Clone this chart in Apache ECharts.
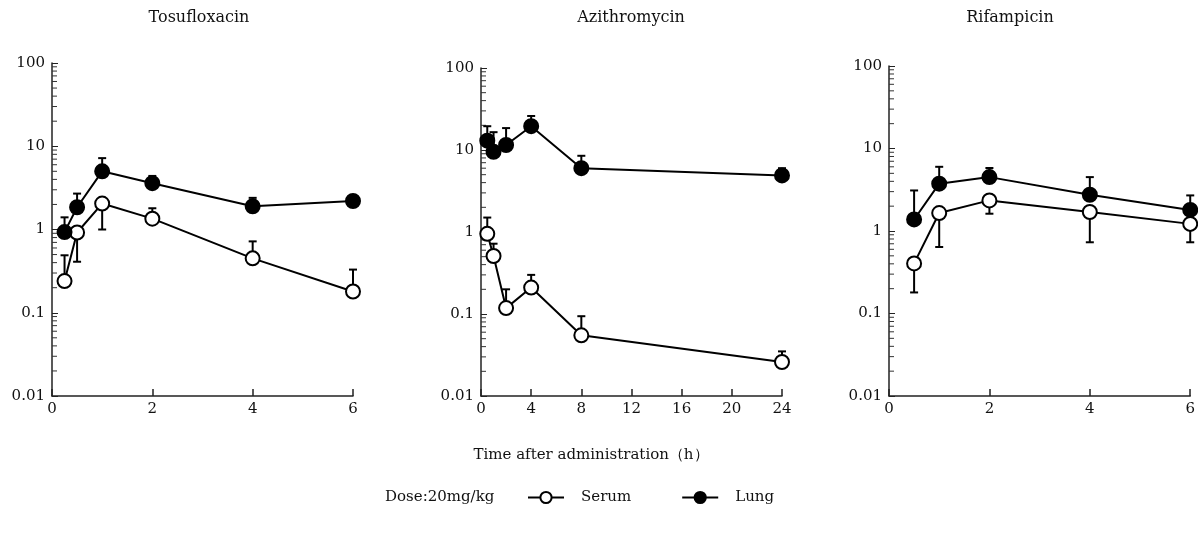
<!DOCTYPE html>
<html>
<head>
<meta charset="utf-8">
<title>Serum and lung concentrations</title>
<script src="https://cdn.jsdelivr.net/npm/echarts@6/dist/echarts.min.js"></script>
<style>
  html, body { margin: 0; padding: 0; background: #fff; }
  #chart { width: 1198px; height: 540px; }
</style>
</head>
<body>
<div id="chart"></div>
<script>
  // values (ug/mL or ug/g), errEnd = end of the SD bar
  const tosuTime = [0.25, 0.5, 1, 2, 4, 6]
  const tosuSerum = [0.24, 0.92, 2.05, 1.35, 0.45, 0.18]
  const tosuSerumErr = [0.49, 0.41, 1.0, 1.8, 0.72, 0.33]
  const tosuLung = [0.93, 1.85, 5.0, 3.6, 1.9, 2.2]
  const tosuLungErr = [1.4, 2.7, 7.2, 4.4, 2.4, null]

  const aziTime = [0.5, 1, 2, 4, 8, 24]
  const aziSerum = [0.95, 0.51, 0.118, 0.21, 0.055, 0.026]
  const aziSerumErr = [1.5, 0.72, 0.2, 0.3, 0.094, 0.035]
  const aziLung = [13, 9.5, 11.5, 19.5, 6.0, 4.9]
  const aziLungErr = [19.5, 16.5, 18.5, 26, 8.5, 6.0]

  const rifTime = [0.5, 1, 2, 4, 6]
  const rifSerum = [0.405, 1.65, 2.35, 1.7, 1.22]
  const rifSerumErr = [0.18, 0.64, 1.62, 0.73, 0.73]
  const rifLung = [1.38, 3.75, 4.5, 2.75, 1.8]
  const rifLungErr = [3.1, 6.0, 5.8, 4.5, 2.7]

  // log axis minor ticks
  const decades = [0.01, 0.1, 1, 10]
  const minorSteps = [2, 3, 4, 5, 6, 7, 8, 9]

  const FONT = 'DejaVu Serif'
  const INK = '#111'

  const panels = [
    { name: 'Tosufloxacin', titleX: 199, xMax: 6, xStep: 2,
      grid: { left: 52, top: 63, width: 301, height: 333 },
      time: tosuTime, serum: tosuSerum, serumErr: tosuSerumErr, lung: tosuLung, lungErr: tosuLungErr },
    { name: 'Azithromycin', titleX: 631, xMax: 24, xStep: 4,
      grid: { left: 481, top: 68, width: 301, height: 328 },
      time: aziTime, serum: aziSerum, serumErr: aziSerumErr, lung: aziLung, lungErr: aziLungErr },
    { name: 'Rifampicin', titleX: 1010, xMax: 6, xStep: 2,
      grid: { left: 889, top: 66, width: 302, height: 330 },
      time: rifTime, serum: rifSerum, serumErr: rifSerumErr, lung: rifLung, lungErr: rifLungErr }
  ]

  function renderErrorBar(params, api) {
    const p0 = api.coord([api.value(0), api.value(1)])
    const p1 = api.coord([api.value(0), api.value(2)])
    const s = { stroke: '#000', lineWidth: 2 }
    return {
      type: 'group',
      children: [
        { type: 'line', shape: { x1: p0[0], y1: p0[1], x2: p1[0], y2: p1[1] }, style: s },
        { type: 'line', shape: { x1: p1[0] - 4, y1: p1[1], x2: p1[0] + 4, y2: p1[1] }, style: s }
      ]
    }
  }

  function renderMinorTick(params, api) {
    const p = api.coord([api.value(0), api.value(1)])
    return {
      type: 'line',
      shape: { x1: p[0], y1: p[1], x2: p[0] + 5, y2: p[1] },
      style: { stroke: '#333', lineWidth: 1 }
    }
  }

  const minorData = []
  decades.forEach(d => minorSteps.forEach(m => minorData.push([0, d * m])))

  const grids = []
  const xAxes = []
  const yAxes = []
  const series = []
  const texts = []

  panels.forEach((p, i) => {
    grids.push(p.grid)
    xAxes.push({
      type: 'value',
      gridIndex: i,
      min: 0,
      max: p.xMax,
      interval: p.xStep,
      axisLine: { onZero: false, lineStyle: { color: '#222', width: 1.5 } },
      axisTick: { inside: true, length: 7, lineStyle: { color: '#222', width: 1.5 } },
      axisLabel: { fontFamily: FONT, fontSize: 15, color: INK, margin: 6 },
      splitLine: { show: false }
    })
    yAxes.push({
      type: 'log',
      logBase: 10,
      gridIndex: i,
      min: 0.01,
      max: 100,
      axisLine: { show: true, onZero: false, lineStyle: { color: '#222', width: 1.5 } },
      axisTick: { show: true, inside: true, length: 6, lineStyle: { color: '#222' } },
      axisLabel: {
        fontFamily: FONT, fontSize: 15, color: INK, margin: 7,
        formatter: v => String(parseFloat(Number(v).toPrecision(3)))
      },
      splitLine: { show: false }
    })

    series.push({
      type: 'custom',
      xAxisIndex: i,
      yAxisIndex: i,
      z: 1,
      silent: true,
      renderItem: renderMinorTick,
      encode: { x: 0, y: 1 },
      data: minorData
    })

    const errData = (vals, ends) => p.time
      .map((t, k) => ends[k] == null ? null : [t, vals[k], ends[k]])
      .filter(Boolean)

    series.push({
      type: 'custom', xAxisIndex: i, yAxisIndex: i, z: 1, silent: true,
      renderItem: renderErrorBar, encode: { x: 0, y: [1, 2] },
      data: errData(p.serum, p.serumErr)
    })
    series.push({
      type: 'custom', xAxisIndex: i, yAxisIndex: i, z: 1, silent: true,
      renderItem: renderErrorBar, encode: { x: 0, y: [1, 2] },
      data: errData(p.lung, p.lungErr)
    })

    series.push({
      name: 'Serum',
      type: 'line',
      xAxisIndex: i,
      yAxisIndex: i,
      z: 3,
      color: '#000',
      symbol: 'circle',
      symbolSize: 14,
      itemStyle: { color: '#fff', borderColor: '#000', borderWidth: 2 },
      lineStyle: { color: '#000', width: 2 },
      data: p.time.map((t, k) => [t, p.serum[k]])
    })
    series.push({
      name: 'Lung',
      type: 'line',
      xAxisIndex: i,
      yAxisIndex: i,
      z: 3,
      color: '#000',
      symbol: 'circle',
      symbolSize: 14,
      itemStyle: { color: '#000', borderColor: '#000', borderWidth: 2 },
      lineStyle: { color: '#000', width: 2 },
      data: p.time.map((t, k) => [t, p.lung[k]])
    })

    texts.push({
      type: 'text', x: p.titleX, y: 18,
      style: { text: p.name, font: '16px "' + FONT + '"', fill: INK, textAlign: 'center', textVerticalAlign: 'middle' }
    })
  })

  texts.push({
    type: 'text', x: 591, y: 455,
    style: { text: 'Time after administration（h）', font: '15px "' + FONT + '"', fill: INK, textAlign: 'center', textVerticalAlign: 'middle' }
  })
  texts.push({
    type: 'text', x: 385, y: 497,
    style: { text: 'Dose:20mg/kg', font: '15px "' + FONT + '"', fill: INK, textAlign: 'left', textVerticalAlign: 'middle' }
  })

  const chart = echarts.init(document.getElementById('chart'))
  chart.setOption({
    animation: false,
    backgroundColor: '#fff',
    grid: grids,
    xAxis: xAxes,
    yAxis: yAxes,
    legend: {
      data: ['Serum', 'Lung'],
      left: 522,
      top: 485,
      itemWidth: 36,
      itemHeight: 14,
      itemGap: 50,
      textStyle: { fontFamily: FONT, fontSize: 15, color: INK, padding: [0, 0, 0, 12] }
    },
    graphic: texts,
    series: series
  })
</script>
</body>
</html>
